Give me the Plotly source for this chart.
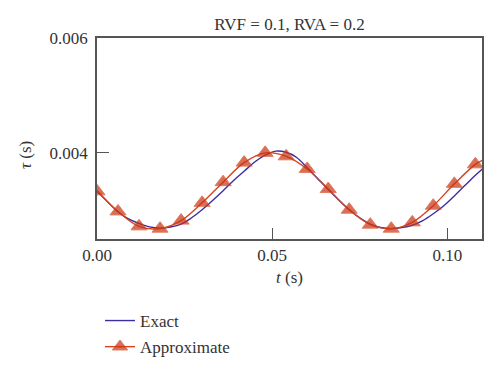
import plotly.graph_objects as go

# Exact solution
exact_t = [0.000, 0.003, 0.006, 0.009, 0.012, 0.015, 0.018, 0.021, 0.024, 0.027,
           0.030, 0.033, 0.036, 0.039, 0.042, 0.045, 0.048, 0.051, 0.054, 0.057,
           0.060, 0.063, 0.066, 0.069, 0.072, 0.075, 0.078, 0.081, 0.084, 0.087,
           0.090, 0.093, 0.096, 0.099, 0.102, 0.105, 0.108, 0.110]
exact_tau = [0.00334, 0.00315, 0.00297, 0.00285, 0.00277, 0.00271, 0.00269, 0.00271, 0.00276, 0.00287,
             0.00301, 0.00317, 0.00334, 0.00352, 0.00368, 0.00384, 0.00396, 0.00403, 0.00401, 0.00392,
             0.00374, 0.00355, 0.00336, 0.00318, 0.00301, 0.00287, 0.00276, 0.00270, 0.00268, 0.00270,
             0.00274, 0.00282, 0.00294, 0.00308, 0.00325, 0.00343, 0.00361, 0.00372]

# Approximate solution (markers; last point is the line end at the frame)
approx_t = [0.000, 0.006, 0.012, 0.018, 0.024, 0.030, 0.036, 0.042, 0.048, 0.054,
            0.060, 0.066, 0.072, 0.078, 0.084, 0.090, 0.096, 0.102, 0.108, 0.110]
approx_tau = [0.00333, 0.00298, 0.00272, 0.00268, 0.00282, 0.00313, 0.00349, 0.00383, 0.00400, 0.00394,
              0.00372, 0.00337, 0.00301, 0.00275, 0.00268, 0.00279, 0.00308, 0.00346, 0.00380, 0.00387]

x_ticks = [0.0, 0.05, 0.10]
x_tick_labels = ["0.00", "0.05", "0.10"]
y_ticks = [0.004, 0.006]
y_tick_labels = ["0.004", "0.006"]

FONT = "Liberation Serif"
TXT = "#333333"
RED = "#c9320f"
RED_LINE = "#d5431f"
BLUE = "#3b2f9e"
FS = 17
W, H = 500, 375

marker_sizes = [14] * (len(approx_t) - 1) + [0]

fig = go.Figure()
fig.add_trace(go.Scatter(
    x=exact_t, y=exact_tau, mode="lines", name="Exact",
    line=dict(color=BLUE, width=1.4, shape="spline"),
    legendgroup="a",
))
fig.add_trace(go.Scatter(
    x=approx_t, y=approx_tau, mode="lines+markers", name="Approximate",
    line=dict(color=RED_LINE, width=1.4, shape="spline"),
    marker=dict(symbol="triangle-up", size=marker_sizes, color=RED),
    legendgroup="b",
))

axis_common = dict(
    showline=True, linecolor="#555555", linewidth=1.5, mirror=True,
    showgrid=False, zeroline=False, ticks="inside", tickcolor="#555555",
    tickwidth=1.3, tickfont=dict(family=FONT, size=FS, color=TXT), automargin=False,
)

# plot frame in pixels: left 97, right 482, top 38, bottom 239
x_dom = [97 / W, 482 / W]
y_dom = [1 - 239 / H, 1 - 38 / H]
xc = (x_dom[0] + x_dom[1]) / 2

fig.update_layout(
    width=W, height=H,
    margin=dict(l=0, r=0, t=0, b=0),
    paper_bgcolor="white", plot_bgcolor="white",
    font=dict(family=FONT, size=FS, color=TXT),
    title=dict(text="RVF = 0.1, RVA = 0.2", x=xc, xref="container", xanchor="center",
               y=1 - 24 / H, yref="container", yanchor="middle",
               font=dict(family=FONT, size=FS, color=TXT)),
    xaxis=dict(domain=x_dom, range=[0, 0.1099], tickvals=x_ticks, ticktext=x_tick_labels,
               ticklen=11, ticklabelstandoff=0, **axis_common),
    yaxis=dict(domain=y_dom, range=[0.0025, 0.006], tickvals=y_ticks, ticktext=y_tick_labels,
               ticklen=12, ticklabelstandoff=4, **axis_common),
    legend=dict(x=100 / W, y=1 - 303 / H, xanchor="left", yanchor="top",
                traceorder="grouped", tracegroupgap=1,
                bgcolor="rgba(0,0,0,0)", font=dict(family=FONT, size=FS, color=TXT)),
    annotations=[
        dict(text="<i>τ</i> (s)", xref="paper", yref="paper", x=25 / W, y=1 - 155 / H,
             textangle=-90, showarrow=False, xanchor="center", yanchor="middle",
             font=dict(family=FONT, size=FS, color=TXT)),
        dict(text="<i>t</i> (s)", xref="paper", yref="paper", x=xc, y=1 - 277 / H,
             showarrow=False, xanchor="center", yanchor="middle",
             font=dict(family=FONT, size=FS, color=TXT)),
    ],
)

fig.write_html("out.html", config={"displayModeBar": False},
               post_script="document.body.style.margin='0px';")
